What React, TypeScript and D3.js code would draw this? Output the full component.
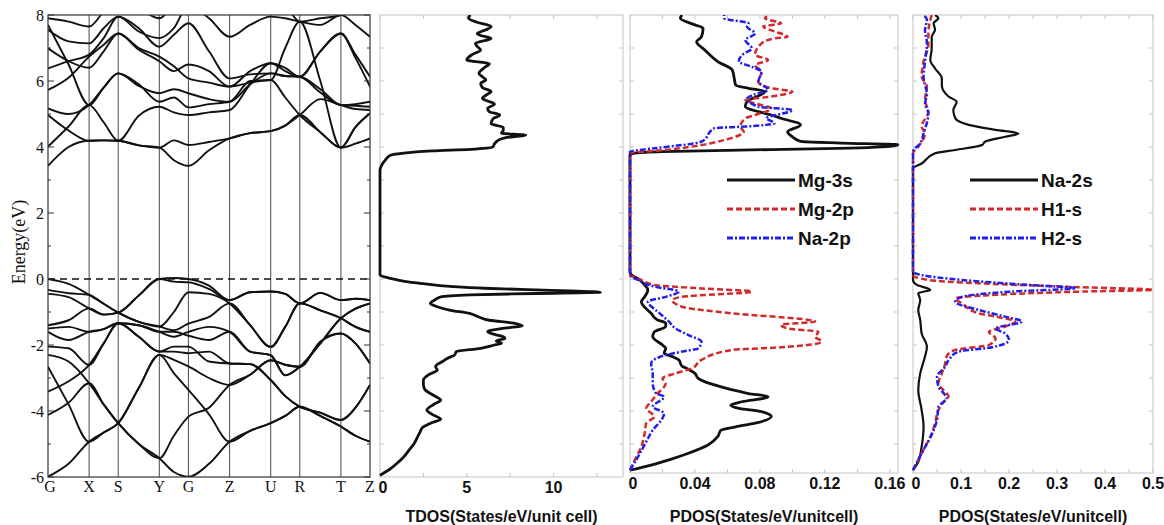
import * as d3 from 'd3'

// high-symmetry path of the band plot
const kLabels = ['G', 'X', 'S', 'Y', 'G', 'Z', 'U', 'R', 'T', 'Z']
const kDist = [0, 41, 70, 111, 140, 181, 222, 251, 292, 321]
const bandTicks = [8, 6, 4, 2, 0, -2, -4, -6]

// band energies (eV) at each k-point and the middle of each segment (19 values, G ... Z)
const valenceBands = [
  [0, -0.15, -0.48, -0.75, -1.02, -1.3, -1.44, -1.0, -0.4, -0.45, -0.74, -1.4, -2.06, -1.45, -0.74, -0.95, -1.19, -1.45, -1.6],
  [-0.33, -0.43, -0.48, -0.75, -1.02, -1.3, -1.44, -1.55, -1.35, -1.15, -0.74, -1.4, -2.06, -1.45, -0.74, -0.95, -1.19, -1.45, -1.6],
  [-0.45, -0.55, -0.89, -1.08, -1.02, -0.5, 0, 0.03, 0, -0.2, -0.64, -0.4, -0.38, -0.45, -0.74, -0.42, -0.64, -0.6, -0.64],
  [-1.4, -1.25, -0.89, -1.08, -1.02, -0.5, 0, -0.08, -0.1, -0.3, -0.64, -0.4, -0.38, -0.45, -0.74, -0.42, -0.64, -0.6, -0.64],
  [-1.5, -1.45, -1.6, -1.52, -1.34, -1.4, -1.6, -1.75, -1.6, -1.45, -1.6, -2.2, -2.31, -2.92, -2.66, -1.95, -1.19, -0.9, -0.74],
  [-1.6, -1.85, -1.6, -1.52, -1.34, -1.4, -1.6, -1.6, -1.72, -1.85, -1.6, -2.2, -2.31, -2.92, -2.66, -1.95, -1.19, -0.9, -0.74],
  [-2.05, -2.1, -2.6, -1.95, -1.34, -1.75, -2.2, -2.05, -2.05, -2.5, -2.56, -2.58, -3.06, -3.55, -3.87, -4.05, -4.27, -3.9, -3.21],
  [-3.41, -3.1, -2.6, -1.95, -1.34, -1.75, -2.2, -2.2, -2.25, -2.2, -2.56, -2.58, -3.06, -3.55, -3.87, -4.05, -4.27, -3.9, -3.21],
  [-2.3, -2.5, -3.16, -3.8, -4.37, -5.0, -5.43, -5.85, -5.99, -5.6, -4.93, -4.6, -4.37, -4.15, -3.87, -4.15, -4.47, -4.75, -4.93],
  [-4.12, -3.75, -3.16, -3.8, -4.37, -5.0, -5.43, -4.75, -4.17, -3.9, -3.21, -2.9, -2.46, -2.6, -2.66, -1.9, -1.65, -1.95, -2.56],
  [-2.66, -3.8, -4.93, -4.65, -4.37, -3.3, -2.3, -2.85, -3.36, -4.1, -4.93, -4.6, -4.37, -4.15, -3.87, -4.15, -4.47, -4.75, -4.93],
  [-5.99, -5.6, -4.93, -4.65, -4.37, -3.3, -2.3, -2.45, -2.65, -3.0, -3.21, -2.9, -2.46, -2.6, -2.66, -1.9, -1.65, -1.95, -2.56],
]

const conductionBands = [
  [3.43, 4.0, 4.19, 4.2, 4.19, 4.05, 3.98, 3.6, 3.43, 3.9, 4.26, 4.42, 4.48, 4.65, 4.97, 5.45, 5.27, 5.15, 5.12],
  [4.97, 4.5, 4.19, 4.2, 4.19, 4.05, 3.98, 4.2, 4.06, 4.15, 4.26, 4.42, 4.48, 4.65, 4.97, 4.45, 3.98, 4.1, 4.26],
  [4.01, 4.62, 5.27, 4.75, 4.19, 4.95, 5.22, 5.05, 4.97, 5.05, 5.12, 5.9, 6.54, 6.3, 6.13, 6.9, 7.44, 6.7, 5.83],
  [5.17, 5.0, 5.27, 5.8, 6.23, 5.85, 5.63, 5.75, 5.63, 5.45, 5.37, 5.9, 6.23, 6.15, 6.13, 5.65, 5.27, 5.3, 5.37],
  [5.73, 6.1, 6.74, 7.1, 7.44, 7.0, 6.74, 6.45, 6.08, 5.95, 5.83, 5.95, 6.03, 5.5, 4.97, 4.45, 3.98, 4.6, 5.02],
  [6.38, 6.6, 6.8, 7.3, 7.95, 7.6, 7.04, 7.4, 7.75, 6.9, 6.08, 6.2, 6.23, 6.15, 6.13, 5.75, 5.27, 5.25, 5.22],
  [6.99, 6.6, 6.4, 6.9, 7.44, 6.95, 6.6, 6.3, 6.5, 6.3, 5.83, 6.3, 6.54, 6.4, 6.13, 6.9, 7.44, 6.8, 6.13],
  [7.7, 6.5, 5.27, 5.8, 6.23, 5.9, 5.37, 5.5, 5.2, 5.3, 5.37, 6.0, 6.03, 7.0, 7.8, 6.0, 3.98, 4.6, 5.02],
  [7.55, 7.2, 7.14, 7.6, 7.95, 7.5, 7.3, 7.6, 8.3, 7.9, 7.34, 7.7, 7.95, 7.9, 7.8, 7.7, 8.0, 7.7, 7.34],
  [7.9, 7.8, 7.65, 8.1, 8.5, 8.2, 7.9, 8.3, 8.6, 8.3, 8.2, 8.4, 8.5, 8.3, 7.8, 7.9, 8.0, 8.3, 8.5],
]

// [energy eV, states]
const tdos: [number, number][] = [
  [-5.95, 0], [-5.85, 0.3], [-5.75, 0.6], [-5.6, 0.95], [-5.4, 1.35], [-5.2, 1.65], [-5.0, 1.95], [-4.8, 2.15],
  [-4.65, 2.3], [-4.5, 2.45], [-4.35, 3.0], [-4.25, 3.5], [-4.1, 3.0], [-3.97, 2.7], [-3.8, 3.1], [-3.67, 3.5],
  [-3.5, 3.0], [-3.36, 2.6], [-3.2, 2.5], [-3.06, 2.5], [-2.9, 2.8], [-2.76, 3.3], [-2.65, 3.2], [-2.5, 3.6],
  [-2.4, 3.9], [-2.3, 4.3], [-2.2, 4.4], [-2.1, 5.8], [-2.0, 6.6], [-1.95, 7.0], [-1.88, 6.7], [-1.8, 7.2],
  [-1.75, 7.1], [-1.68, 6.6], [-1.6, 6.2], [-1.5, 7.0], [-1.42, 8.2], [-1.34, 7.7], [-1.25, 6.3], [-1.15, 5.7],
  [-1.05, 5.2], [-0.94, 4.0], [-0.84, 3.3], [-0.74, 2.9], [-0.62, 3.2], [-0.54, 3.5], [-0.48, 5.2], [-0.44, 9.0],
  [-0.4, 12.7], [-0.36, 11.0], [-0.33, 9.0], [-0.28, 6.0], [-0.23, 4.2], [-0.13, 2.3], [-0.08, 1.5], [0.02, 0.6],
  [0.12, 0], [3.3, 0], [3.45, 0.1], [3.6, 0.3], [3.75, 0.6], [3.82, 1.5], [3.88, 3.0], [3.93, 5.2], [4.0, 6.5],
  [4.1, 6.6], [4.2, 6.8], [4.28, 7.2], [4.36, 8.4], [4.42, 7.0], [4.5, 7.1], [4.6, 7.1], [4.7, 6.4], [4.85, 6.5],
  [4.97, 6.9], [5.07, 6.3], [5.17, 6.2], [5.3, 6.6], [5.47, 5.9], [5.6, 6.2], [5.68, 6.4], [5.8, 5.9], [5.93, 5.8],
  [6.03, 6.1], [6.13, 5.9], [6.23, 5.7], [6.4, 6.0], [6.52, 6.3], [6.64, 5.0], [6.8, 5.3], [6.94, 5.8], [7.05, 5.6],
  [7.14, 5.5], [7.29, 6.4], [7.38, 5.8], [7.44, 5.6], [7.55, 6.1], [7.65, 6.4], [7.78, 5.6], [7.9, 5.1], [8.0, 5.2],
]

const mg3s: [number, number][] = [
  [-5.79, 0], [-5.74, 0.005], [-5.64, 0.013], [-5.48, 0.024], [-5.28, 0.036], [-5.03, 0.048], [-4.78, 0.054],
  [-4.58, 0.056], [-4.48, 0.065], [-4.37, 0.077], [-4.17, 0.087], [-4.02, 0.081], [-3.92, 0.067], [-3.82, 0.062],
  [-3.72, 0.069], [-3.57, 0.085], [-3.47, 0.073], [-3.36, 0.063], [-3.21, 0.052], [-3.11, 0.046], [-3.01, 0.042],
  [-2.86, 0.04], [-2.71, 0.035], [-2.64, 0.032], [-2.45, 0.03], [-2.35, 0.026], [-2.25, 0.021], [-2.1, 0.022],
  [-2.0, 0.02], [-1.75, 0.014], [-1.6, 0.015], [-1.44, 0.022], [-1.34, 0.022], [-1.24, 0.017], [-1.04, 0.013],
  [-0.69, 0.007], [-0.54, 0.009], [-0.33, 0.011], [-0.18, 0.009], [-0.03, 0.006], [0.12, 0.001], [0.22, 0],
  [3.76, 0], [3.82, 0.004], [3.86, 0.02], [3.9, 0.06], [3.95, 0.12], [4.02, 0.16], [4.07, 0.165], [4.12, 0.13],
  [4.17, 0.105], [4.31, 0.1], [4.46, 0.097], [4.67, 0.105], [4.87, 0.093], [4.97, 0.087], [5.07, 0.079],
  [5.22, 0.071], [5.37, 0.072], [5.68, 0.083], [5.78, 0.073], [5.88, 0.065], [6.13, 0.064], [6.33, 0.063],
  [6.59, 0.054], [6.94, 0.046], [7.19, 0.041], [7.34, 0.044], [7.6, 0.045], [7.7, 0.04], [7.9, 0.031], [8.0, 0.032],
]

const mg2p: [number, number][] = [
  [-5.79, 0], [-5.48, 0.003], [-5.08, 0.007], [-4.68, 0.009], [-4.37, 0.01], [-4.17, 0.015], [-3.92, 0.01],
  [-3.72, 0.013], [-3.52, 0.016], [-3.16, 0.022], [-3.01, 0.02], [-2.86, 0.028], [-2.71, 0.038], [-2.45, 0.044],
  [-2.15, 0.063], [-2.07, 0.093], [-1.9, 0.118], [-1.75, 0.114], [-1.6, 0.116], [-1.5, 0.097], [-1.39, 0.093],
  [-1.29, 0.114], [-1.24, 0.11], [-1.04, 0.063], [-0.84, 0.032], [-0.64, 0.026], [-0.54, 0.032], [-0.38, 0.075],
  [-0.28, 0.042], [-0.18, 0.015], [0.02, 0.005], [0.12, 0],
  [3.81, 0], [3.91, 0.022], [4.06, 0.044], [4.21, 0.058], [4.46, 0.07], [4.62, 0.068], [4.87, 0.071], [4.97, 0.077],
  [5.17, 0.087], [5.32, 0.077], [5.42, 0.071], [5.53, 0.087], [5.68, 0.1], [5.78, 0.087], [5.98, 0.079],
  [6.28, 0.081], [6.48, 0.077], [6.64, 0.085], [6.79, 0.077], [7.14, 0.081], [7.29, 0.089], [7.34, 0.097],
  [7.5, 0.089], [7.65, 0.082], [7.75, 0.093], [7.9, 0.083], [8.0, 0.086],
]

const na2p: [number, number][] = [
  [-5.79, 0], [-5.38, 0.005], [-4.93, 0.01], [-4.58, 0.014], [-4.22, 0.02], [-4.07, 0.021], [-3.87, 0.014],
  [-3.57, 0.021], [-3.46, 0.016], [-3.16, 0.014], [-2.86, 0.014], [-2.56, 0.013], [-2.35, 0.019], [-2.2, 0.032],
  [-2.1, 0.042], [-1.9, 0.044], [-1.7, 0.036], [-1.5, 0.028], [-1.29, 0.024], [-0.99, 0.017], [-0.69, 0.011],
  [-0.54, 0.022], [-0.38, 0.03], [-0.23, 0.015], [-0.03, 0.005], [0.12, 0],
  [3.86, 0], [3.96, 0.015], [4.16, 0.044], [4.57, 0.052], [4.62, 0.071], [4.72, 0.089], [4.87, 0.084],
  [5.12, 0.1], [5.22, 0.079], [5.47, 0.072], [5.58, 0.076], [5.73, 0.085], [5.98, 0.079], [6.28, 0.081],
  [6.43, 0.075], [6.59, 0.067], [6.79, 0.069], [6.99, 0.075], [7.24, 0.071], [7.44, 0.077], [7.65, 0.072],
  [7.75, 0.073], [7.9, 0.058], [8.0, 0.058],
]

const na2s: [number, number][] = [
  [-5.79, 0], [-5.54, 0.011], [-5.08, 0.018], [-4.47, 0.022], [-3.97, 0.018], [-3.36, 0.011], [-2.86, 0.015],
  [-2.35, 0.025], [-2.05, 0.029], [-1.65, 0.018], [-1.24, 0.015], [-0.94, 0.011], [-0.64, 0.015], [-0.43, 0.011],
  [-0.33, 0.036], [-0.18, 0.008], [-0.03, 0],
  [3.35, 0], [3.5, 0.018], [3.81, 0.046], [3.91, 0.088], [4.06, 0.144], [4.16, 0.15], [4.31, 0.192], [4.41, 0.22],
  [4.52, 0.172], [4.67, 0.116], [4.87, 0.088], [5.12, 0.084], [5.37, 0.091], [5.53, 0.074], [5.88, 0.06],
  [6.08, 0.06], [6.38, 0.046], [6.64, 0.036], [6.99, 0.039], [7.34, 0.039], [7.55, 0.046], [7.75, 0.043],
  [7.9, 0.053], [8.0, 0.046],
]

const h1s: [number, number][] = [
  [-5.79, 0], [-5.28, 0.018], [-4.68, 0.039], [-4.37, 0.046], [-3.97, 0.053], [-3.67, 0.067], [-3.57, 0.074],
  [-3.16, 0.053], [-2.86, 0.06], [-2.56, 0.067], [-2.35, 0.07], [-2.15, 0.088], [-2.0, 0.158], [-1.8, 0.172],
  [-1.6, 0.158], [-1.44, 0.192], [-1.29, 0.213], [-1.14, 0.172], [-1.04, 0.137], [-0.74, 0.102], [-0.59, 0.088],
  [-0.48, 0.172], [-0.38, 0.353], [-0.33, 0.5], [-0.23, 0.311], [-0.13, 0.137], [-0.03, 0.032], [0.12, 0],
  [3.81, 0], [4.01, 0.011], [4.41, 0.025], [4.62, 0.018], [5.07, 0.032], [5.42, 0.025], [5.83, 0.029],
  [6.13, 0.018], [6.59, 0.022], [7.09, 0.032], [7.44, 0.032], [7.85, 0.036], [8.0, 0.039],
]

const h2s: [number, number][] = [
  [-5.79, 0], [-5.28, 0.018], [-4.58, 0.043], [-4.27, 0.05], [-3.87, 0.053], [-3.62, 0.07], [-3.26, 0.053],
  [-2.96, 0.05], [-2.66, 0.067], [-2.4, 0.077], [-2.2, 0.095], [-2.07, 0.165], [-1.85, 0.2], [-1.65, 0.192],
  [-1.5, 0.172], [-1.29, 0.227], [-1.14, 0.192], [-0.94, 0.137], [-0.69, 0.088], [-0.54, 0.102], [-0.38, 0.206],
  [-0.28, 0.339], [-0.18, 0.241], [-0.03, 0.102], [0.12, 0.018], [0.22, 0],
  [3.86, 0], [4.11, 0.015], [4.41, 0.022], [5.02, 0.032], [5.32, 0.025], [5.58, 0.029], [6.13, 0.022],
  [6.59, 0.025], [7.14, 0.029], [7.55, 0.025], [7.85, 0.029], [8.0, 0.022],
]

const tdosTicks = [0, 5, 10]
const pdos1Ticks = [0, 0.04, 0.08, 0.12, 0.16]
const pdos2Ticks = [0, 0.1, 0.2, 0.3, 0.4, 0.5]

const BLACK = '#111'
const RED = '#d22a2a'
const BLUE = '#2020ee'
const FRAME = '#c4c4c4'
const SANS = '"Liberation Sans", Arial, sans-serif'
const SERIF = '"Liberation Serif", "Times New Roman", serif'

const TOP = 15
const yE = d3.scaleLinear().domain([-6, 8]).range([477, TOP])

type Curve = { data: [number, number][]; color: string; dash?: string; width: number }
type LegendItem = { label: string; color: string; dash?: string }

function DosPanel({ left, right, bottom, max, ticks, step, curves, title, legend, legendX }: {
  left: number; right: number; bottom: number; max: number; ticks: number[]; step: number
  curves: Curve[]; title: string; legend?: LegendItem[]; legendX?: number
}) {
  const x = d3.scaleLinear().domain([0, max]).range([left, right])
  const line = d3.line<[number, number]>().x(d => x(d[1])).y(d => yE(d[0])).curve(d3.curveMonotoneY)
  const id = `clip-${left}`
  const eTicks = d3.range(-5, 8)
  const vTicks = d3.range(0, max + 1e-9, step)
  return (
    <g>
      <clipPath id={id}><rect x={left - 2} y={TOP} width={right - left + 4} height={bottom - TOP} /></clipPath>
      <rect x={left} y={TOP} width={right - left} height={bottom - TOP} fill="none" stroke={FRAME} />
      {eTicks.map(e => (
        <g key={e} stroke={FRAME}>
          <line x1={left} x2={left + 4} y1={yE(e)} y2={yE(e)} />
          <line x1={right} x2={right - 4} y1={yE(e)} y2={yE(e)} />
        </g>
      ))}
      {vTicks.map(v => (
        <g key={v} stroke={FRAME}>
          <line x1={x(v)} x2={x(v)} y1={bottom} y2={bottom - 4} />
          <line x1={x(v)} x2={x(v)} y1={TOP} y2={TOP + 4} />
        </g>
      ))}
      <g clipPath={`url(#${id})`}>
        {curves.map((c, i) => (
          <path key={i} d={line(c.data) ?? ''} fill="none" stroke={c.color} strokeWidth={c.width}
            strokeDasharray={c.dash} strokeLinejoin="round" />
        ))}
      </g>
      {ticks.map(t => (
        <text key={t} x={x(t) + (t === 0 ? 3 : 0)} y={bottom + 16} textAnchor="middle" fontFamily={SANS}
          fontWeight="bold" fontSize={16} fill={BLACK}>{String(t)}</text>
      ))}
      <text x={(left + right) / 2} y={522} textAnchor="middle" fontFamily={SANS} fontWeight="bold"
        fontSize={16} fill={BLACK}>{title}</text>
      {legend && legendX !== undefined && legend.map((item, i) => {
        const y = 180 + i * 29
        return (
          <g key={item.label}>
            <line x1={legendX} x2={legendX + 68} y1={y} y2={y} stroke={item.color} strokeWidth={3}
              strokeDasharray={item.dash} />
            <text x={legendX + 71} y={y + 7} fontFamily={SANS} fontWeight="bold" fontSize={19}
              fill={BLACK}>{item.label}</text>
          </g>
        )
      })}
    </g>
  )
}

export default function App() {
  const left = 48
  const right = 370
  const bottom = 477
  const xBand = d3.scaleLinear().domain([0, kDist[kDist.length - 1]]).range([left, right])
  const kSamples = kDist.flatMap((k, i) => (i < kDist.length - 1 ? [k, (k + kDist[i + 1]) / 2] : [k]))
  const bandLine = d3.line<number>().x((_, i) => xBand(kSamples[i])).y(e => yE(e)).curve(d3.curveMonotoneX)
  const minor = d3.range(-6, 9)

  const redDash = '6,3'
  const blueDash = '6,2,2,2'

  return (
    <svg width={1164} height={525} style={{ position: 'absolute', left: 0, top: 0, background: '#fff' }}>
      {/* band structure */}
      <clipPath id="band-clip"><rect x={left} y={TOP} width={right - left} height={bottom - TOP} /></clipPath>
      {kDist.slice(1, -1).map((k, i) => (
        <line key={i} x1={xBand(k)} x2={xBand(k)} y1={TOP} y2={bottom} stroke="#5a5a5a" strokeWidth={1.1} />
      ))}
      <line x1={left} x2={right} y1={yE(0)} y2={yE(0)} stroke={BLACK} strokeWidth={1.7} strokeDasharray="7,5" />
      <g clipPath="url(#band-clip)">
        {[...valenceBands, ...conductionBands].map((b, i) => (
          <path key={i} d={bandLine(b) ?? ''} fill="none" stroke={BLACK} strokeWidth={1.9} />
        ))}
      </g>
      <rect x={left} y={TOP} width={right - left} height={bottom - TOP} fill="none" stroke="#333" strokeWidth={1.2} />
      {minor.map(e => {
        const len = e % 2 === 0 ? 6 : 3
        return (
          <g key={e} stroke="#333">
            <line x1={left} x2={left + len} y1={yE(e)} y2={yE(e)} />
            <line x1={right} x2={right - len} y1={yE(e)} y2={yE(e)} />
          </g>
        )
      })}
      {bandTicks.map(t => (
        <text key={t} x={44} y={yE(t)} dy="0.35em" textAnchor="end" fontFamily={SERIF} fontSize={16}
          fill={BLACK}>{String(t)}</text>
      ))}
      {kLabels.map((l, i) => (
        <text key={i} x={xBand(kDist[i]) + (i === 0 ? 2 : 0)} y={492} textAnchor="middle" fontFamily={SERIF}
          fontSize={16} fill={BLACK}>{l}</text>
      ))}
      <text transform="translate(19,242) rotate(-90)" textAnchor="middle" dy="0.35em" fontFamily={SERIF}
        fontSize={18} fill={BLACK}>Energy(eV)</text>

      {/* total DOS */}
      <DosPanel left={380} right={623} bottom={477} max={14} ticks={tdosTicks} step={2.5}
        curves={[{ data: tdos, color: BLACK, width: 2.8 }]} title="TDOS(States/eV/unit cell)" />

      {/* partial DOS: Mg, Na */}
      <DosPanel left={630} right={898} bottom={473} max={0.165} ticks={pdos1Ticks} step={0.02}
        curves={[
          { data: mg3s, color: BLACK, width: 2.8 },
          { data: mg2p, color: RED, dash: redDash, width: 2.5 },
          { data: na2p, color: BLUE, dash: blueDash, width: 2.5 },
        ]}
        title="PDOS(States/eV/unitcell)" legendX={727}
        legend={[
          { label: 'Mg-3s', color: BLACK },
          { label: 'Mg-2p', color: RED, dash: redDash },
          { label: 'Na-2p', color: BLUE, dash: blueDash },
        ]} />

      {/* partial DOS: Na, H */}
      <DosPanel left={913} right={1153} bottom={473} max={0.5} ticks={pdos2Ticks} step={0.05}
        curves={[
          { data: na2s, color: BLACK, width: 2.2 },
          { data: h1s, color: RED, dash: redDash, width: 2.5 },
          { data: h2s, color: BLUE, dash: blueDash, width: 2.5 },
        ]}
        title="PDOS(States/eV/unitcell)" legendX={970}
        legend={[
          { label: 'Na-2s', color: BLACK },
          { label: 'H1-s', color: RED, dash: redDash },
          { label: 'H2-s', color: BLUE, dash: blueDash },
        ]} />
    </svg>
  )
}
